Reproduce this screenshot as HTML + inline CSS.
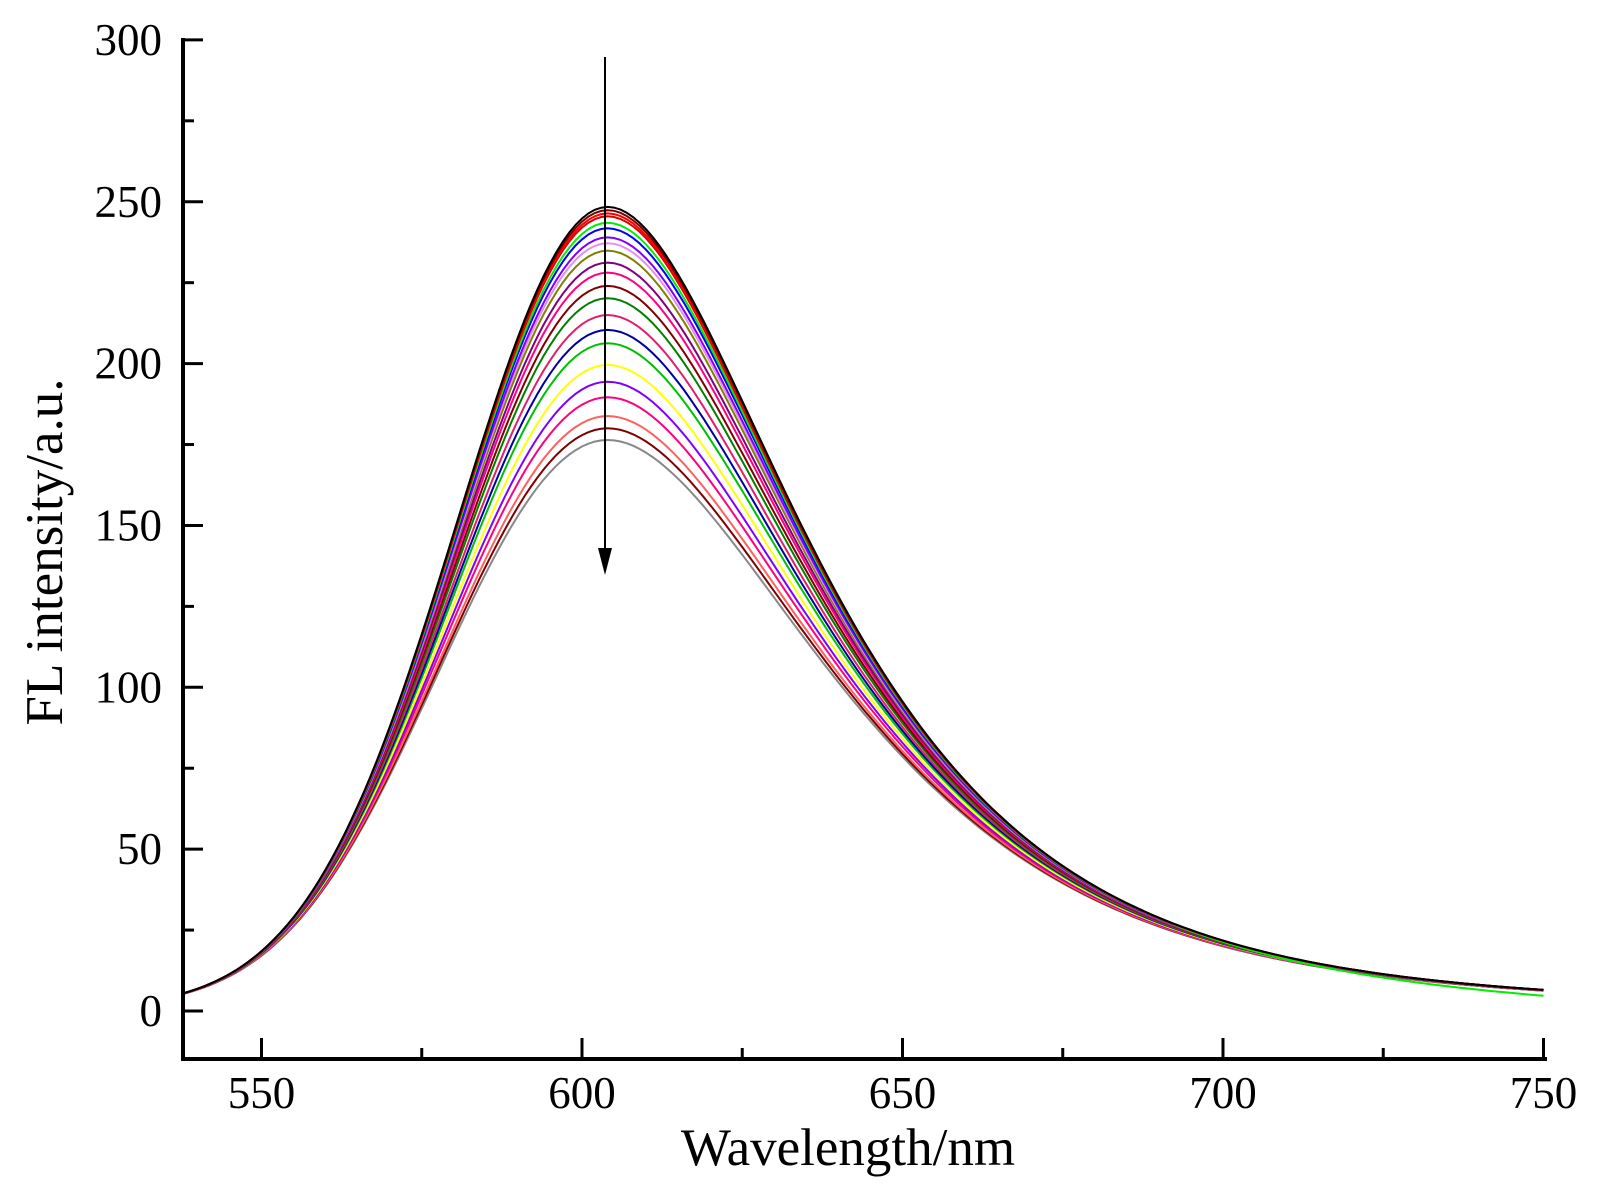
<!DOCTYPE html>
<html><head><meta charset="utf-8"><style>
body{margin:0;background:#fff}
svg{display:block}
text{font-family:"Liberation Serif",serif;fill:#000}
</style></head><body>
<svg id="s" width="1597" height="1201" xmlns="http://www.w3.org/2000/svg">
<g id="curves" fill="none" stroke-width="2"></g>
<g stroke="#000" stroke-width="4" fill="none">
<path d="M183,38 V1059 H1547"/>
</g>
<g id="ticks" stroke="#000" stroke-width="3"></g>
<g id="labels" font-size="45"></g>
<text x="848" y="1165" font-size="53" text-anchor="middle">Wavelength/nm</text>
<text transform="translate(62,552) rotate(-90)" font-size="53" text-anchor="middle">FL intensity/a.u.</text>
<line x1="605" y1="57" x2="605" y2="560" stroke="#000" stroke-width="2"/>
<polygon points="598,548 612,548 605,575" fill="#000"/>
</svg>
<script>
var X=function(l){return 582+(l-600)*6.41;};
var Y=function(v){return 1011-v*3.237;};
var t=document.getElementById('ticks'),lb=document.getElementById('labels'),h='',L='';
for(var v=0;v<=300;v+=25){var y=Y(v);var maj=v%50==0;h+='<line x1="183" y1="'+y+'" x2="'+(maj?203:194)+'" y2="'+y+'"/>';if(maj)L+='<text x="162" y="'+(y+15)+'" text-anchor="end">'+v+'</text>';}
for(var l=550;l<=750;l+=25){var x=X(l);var maj=l%50==0;h+='<line x1="'+x+'" y1="1059" x2="'+x+'" y2="'+(maj?1038:1048)+'"/>';if(maj)L+='<text x="'+x+'" y="1108" text-anchor="middle">'+l+'</text>';}
t.innerHTML=h;lb.innerHTML=L;
var peaks=[248.4,247.4,246.4,245.5,243.5,241.8,239,237.2,234.9,231.2,228.1,224,220.2,215,210.4,206.3,199.6,194.4,189.6,183.8,180,176.4];
var cols=['#000','#800000','#ff0000','#e00000','#00ee00','#0000ff','#8000ff','#e090f0','#808000','#800080','#ff0080','#800000','#008000','#e0206a','#0000a0','#00c000','#ffff00','#8000ff','#ff0080','#ff6060','#800000','#888888'];
var c='';
for(var i=peaks.length-1;i>=0;i--){var k=peaks[i]/248.4;var d='';
for(var l=538;l<=750;l+=1){var dd=l-604,s=dd<0?23.5:24+0.2*dd;var g=Math.exp(-dd*dd/(2*s*s));var v=248.4*g*(1-(1-k)*Math.pow(g,0.5))+0.8*(1-g);
if(cols[i]=='#00ee00'&&l>690)v-=(l-690)*0.03;
d+=(l==538?'M':'L')+X(l).toFixed(1)+','+Y(v).toFixed(1);}
c+='<path d="'+d+'" stroke="'+cols[i]+'"/>';}
document.getElementById('curves').innerHTML=c;
</script>
</body></html>
